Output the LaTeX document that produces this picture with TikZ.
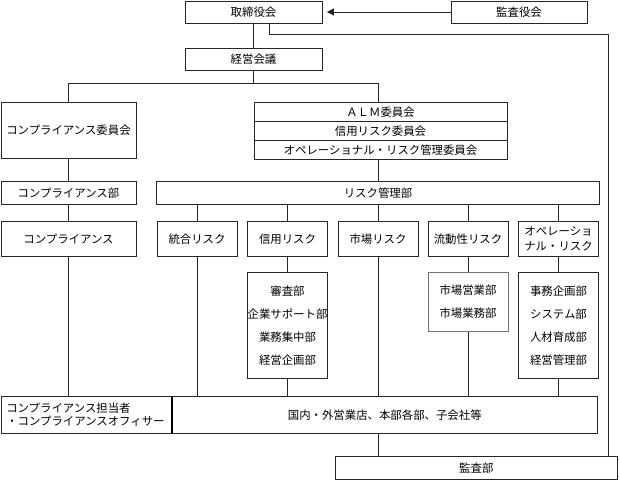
\documentclass[tikz,border=0pt]{standalone}
\usepackage{fontspec}
\setmainfont{Noto Sans CJK JP}
\usetikzlibrary{arrows.meta}

\begin{document}
\begin{tikzpicture}[x=1pt,y=-1pt,
    every node/.style={font=\fontsize{11.4}{13}\selectfont},
    box/.style={draw=black!85,line width=0.8pt,inner sep=0pt,minimum height=22pt},
    almrow/.style={box,minimum width=253pt,minimum height=19pt},
    riskbox/.style={box,minimum width=80pt,minimum height=34.3pt},
    subbox/.style={box,minimum width=80pt,align=center,font=\fontsize{11.4}{23}\selectfont}]
  \useasboundingbox (0,0) rectangle (620,480);
  \draw
    (253.5,12) node[box,minimum width=137pt] (torishimari){取締役会}
    (519,12) node[box,minimum width=136pt] (kansayaku){監査役会}
    (253.5,59.5) node[box,minimum width=137pt] (keiei){経営会議}
    (68.5,130.3) node[box,minimum width=135pt,minimum height=56pt] (compiinkai){コンプライアンス委員会}
    (380.5,111.8) node[almrow] (alm1){ＡＬＭ委員会}
    (380.5,130.8) node[almrow] (alm2){信用リスク委員会}
    (380.5,149.8) node[almrow] (alm3){オペレーショナル・リスク管理委員会}
    (68.5,193) node[box,minimum width=135pt,minimum height=22.6pt] (compbu){コンプライアンス部}
    (378,193) node[box,minimum width=442.6pt,minimum height=22.6pt] (riskbu){リスク管理部}
    (68.5,239) node[box,minimum width=135pt,minimum height=34.3pt] (comp){コンプライアンス}
    (197,239) node[riskbox] (togo){統合リスク}
    (287.5,239) node[riskbox] (shinyo){信用リスク}
    (378,239) node[riskbox] (shijo){市場リスク}
    (468,239) node[riskbox] (ryudo){流動性リスク}
    (558.5,239) node[riskbox,align=center,font=\fontsize{11.4}{14.5}\selectfont] (ope){オペレーショ\\ナル・リスク}
    (287.5,325.3) node[subbox,minimum height=106pt] (shinyosub){審査部\\企業サポート部\\業務集中部\\経営企画部}
    (468,301.8) node[subbox,draw=black!55,minimum height=59pt] (ryudosub){市場営業部\\市場業務部}
    (558.5,325.3) node[subbox,minimum height=106pt] (opesub){事務企画部\\システム部\\人材育成部\\経営管理部}
    (86.75,414.7) node[box,minimum height=37.3pt,text width=161pt,inner xsep=5.25pt,align=left,
      font=\fontsize{11.4}{12.5}\selectfont] (tanto){コンプライアンス担当者\\・コンプライアンスオフィサー}
    (384.75,414.7) node[box,minimum width=424.5pt,minimum height=37.3pt] (kokunai){国内・外営業店、本部各部、子会社等}
    (476.3,467.7) node[box,minimum width=282pt,minimum height=23.3pt] (kansabu){監査部};
  \coordinate (bar) at (253.5,83.3);
  \coordinate (corner) at (608,34.3);
  \begin{scope}[draw=black!85,line width=0.8pt]
    \draw[-{Triangle[length=7pt,width=7pt]},shorten >=4.5pt] (kansayaku) to (torishimari);
    \draw (torishimari) to (keiei);
    \draw ([xshift=15.8pt]torishimari.south) |- (corner) -- (corner |- kansabu.north);
    \draw (keiei) to (bar);
    \draw (compiinkai) |- (bar) -| (alm1.north -| shijo.north);
    \draw (alm3.south -| shijo.north) to (riskbu.north -| shijo.north);
    \draw (compiinkai) to (compbu);
    \draw (compbu) to (comp);
    \draw (comp.south) to (comp.south |- tanto.north);
    \draw (riskbu.south -| togo.north) to (togo.north);
    \draw (riskbu.south -| shinyo.north) to (shinyo.north);
    \draw (riskbu.south -| shijo.north) to (shijo.north);
    \draw (riskbu.south -| ryudo.north) to (ryudo.north);
    \draw (riskbu.south -| ope.north) to (ope.north);
    \draw (shinyo) to (shinyosub);
    \draw (ryudo) to (ryudosub);
    \draw (ope) to (opesub);
    \draw (togo.south) to (togo.south |- kokunai.north);
    \draw (shinyosub.south) to (shinyosub.south |- kokunai.north);
    \draw (shijo.south) to (shijo.south |- kokunai.north);
    \draw (ryudosub.south) to (ryudosub.south |- kokunai.north);
    \draw (opesub.south) to (opesub.south |- kokunai.north);
    \draw (kokunai.south -| shijo.south) to (kansabu.north -| shijo.south);
    \draw[line width=2pt,draw=black] (kokunai.north west) to (kokunai.south west);
  \end{scope}
\end{tikzpicture}
\end{document}
